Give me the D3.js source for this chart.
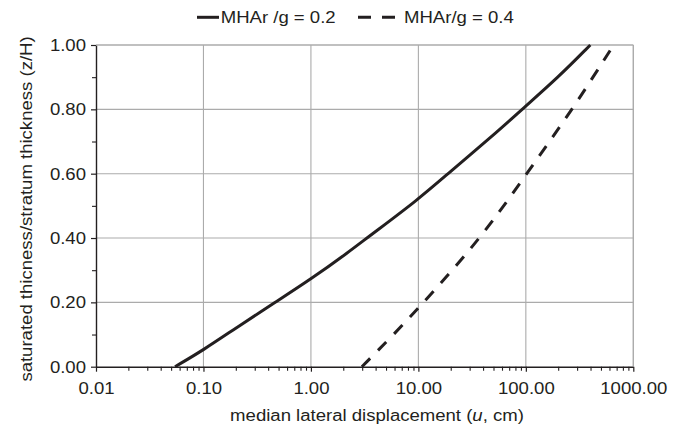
<!DOCTYPE html>
<html>
<head>
<meta charset="utf-8">
<script src="https://cdn.jsdelivr.net/npm/d3@7/dist/d3.min.js"></script>
<style>
  html, body { margin: 0; padding: 0; background: #fff; }
  svg { display: block; }
  text { font-family: "Liberation Sans", Arial, sans-serif; fill: #231f20; }
</style>
</head>
<body>
<svg id="chart" width="686" height="427"></svg>
<script>
// ---- data ----
const seriesNames = ["MHAr /g = 0.2", "MHAr/g = 0.4"];
const uSolid  = [0.0544, 0.1, 0.2, 0.464, 1.0, 2.32, 3.31, 10, 18.8, 57.8, 92, 201, 398];
const zSolid  = [0, 0.052, 0.12, 0.2, 0.272, 0.36, 0.4, 0.52, 0.6, 0.738, 0.8, 0.9, 1.0];
const uDashed = [2.98, 5.9, 11.2, 20.7, 37.2, 62.4, 102, 166, 269, 422, 656];
const zDashed = [0, 0.1, 0.2, 0.3, 0.4, 0.5, 0.6, 0.7, 0.8, 0.9, 1.0];
const xTicks = [0.01, 0.1, 1, 10, 100, 1000];
const yTicks = [0, 0.2, 0.4, 0.6, 0.8, 1.0];
const yMinorTicks = [0.1, 0.3, 0.5, 0.7, 0.9];
const xTitle = ["median lateral displacement (", "u", ", cm)"];
const yTitle = "saturated thicness/stratum thickness (z/H)";

(function () {
// ---- layout ----
const SX = 1.16;        // horizontal stretch of the glyphs
const FS = 16;
const ink = "#231f20";
const grid = "#ababab";
const pL = 96, pR = 633.3, pT = 45, pB = 366.7;

const svg = d3.select("#chart");
const x = d3.scaleLog().domain([0.01, 1000]).range([pL, pR]);
const y = d3.scaleLinear().domain([0, 1]).range([pB, pT]);

// gridlines
const g = svg.append("g");
g.selectAll(".vg").data(xTicks.slice(1)).enter().append("line")
  .attr("x1", d => x(d)).attr("x2", d => x(d))
  .attr("y1", pT).attr("y2", pB)
  .attr("stroke", grid).attr("stroke-width", 1.1);
g.selectAll(".hg").data(yTicks.slice(1)).enter().append("line")
  .attr("x1", pL).attr("x2", pR)
  .attr("y1", d => y(d)).attr("y2", d => y(d))
  .attr("stroke", grid).attr("stroke-width", 1.1);

// minor x ticks
const xMinor = [];
for (let e = -2; e < 3; e++) for (let m = 2; m <= 9; m++) xMinor.push(m * Math.pow(10, e));
svg.append("g").attr("transform", `translate(0,${pB})`)
  .call(d3.axisBottom(x).tickValues(xMinor).tickSize(4).tickSizeOuter(0).tickFormat(""))
  .call(s => s.select(".domain").remove())
  .call(s => s.selectAll("line").attr("stroke", ink).attr("stroke-width", 1.1));

// minor y ticks
svg.append("g").attr("transform", `translate(${pL},0)`)
  .call(d3.axisLeft(y).tickValues(yMinorTicks).tickSize(4).tickSizeOuter(0).tickFormat(""))
  .call(s => s.select(".domain").remove())
  .call(s => s.selectAll("line").attr("stroke", ink).attr("stroke-width", 1.1));

// x axis
svg.append("g").attr("transform", `translate(0,${pB})`)
  .call(d3.axisBottom(x).tickValues(xTicks).tickSize(5).tickSizeOuter(0).tickFormat(d3.format(".2f")))
  .call(s => s.select(".domain").attr("stroke", ink).attr("stroke-width", 1.4))
  .call(s => s.selectAll("line").attr("stroke", ink).attr("stroke-width", 1.2))
  .call(s => s.selectAll("text")
    .attr("y", 27.8).attr("dy", 0).attr("x", 0)
    .attr("transform", `scale(${SX},1)`)
    .attr("font-size", FS).attr("fill", ink)
    .attr("font-family", "'Liberation Sans', Arial, sans-serif"));

// y axis
svg.append("g").attr("transform", `translate(${pL},0)`)
  .call(d3.axisLeft(y).tickValues(yTicks).tickSize(5).tickSizeOuter(0).tickFormat(d3.format(".2f")))
  .call(s => s.select(".domain").attr("stroke", ink).attr("stroke-width", 1.4))
  .call(s => s.selectAll("line").attr("stroke", ink).attr("stroke-width", 1.2))
  .call(s => s.selectAll("text")
    .attr("x", -10 / SX).attr("dy", "0.35em")
    .attr("transform", `scale(${SX},1)`)
    .attr("font-size", FS).attr("fill", ink)
    .attr("font-family", "'Liberation Sans', Arial, sans-serif"));

// top & right borders (gray)
svg.append("line").attr("x1", pL).attr("x2", pR).attr("y1", pT).attr("y2", pT)
  .attr("stroke", grid).attr("stroke-width", 1.1);
svg.append("line").attr("x1", pR).attr("x2", pR).attr("y1", pT).attr("y2", pB)
  .attr("stroke", grid).attr("stroke-width", 1.1);

// curves
const line = d3.line().x(d => x(d[0])).y(d => y(d[1])).curve(d3.curveBasis);
svg.append("path").datum(uSolid.map((u, i) => [u, zSolid[i]]))
  .attr("d", line).attr("fill", "none").attr("stroke", ink).attr("stroke-width", 3);
svg.append("path").datum(uDashed.map((u, i) => [u, zDashed[i]]))
  .attr("d", line).attr("fill", "none").attr("stroke", ink).attr("stroke-width", 3)
  .attr("stroke-dasharray", "12,11");

// axis titles
const xt = svg.append("text")
  .attr("transform", `translate(377,421) scale(${SX},1)`)
  .attr("text-anchor", "middle").attr("font-size", FS);
xt.append("tspan").text(xTitle[0]);
xt.append("tspan").attr("font-style", "italic").text(xTitle[1]);
xt.append("tspan").text(xTitle[2]);

svg.append("text")
  .attr("transform", `translate(31.5,209) rotate(-90) scale(${SX},1)`)
  .attr("text-anchor", "middle").attr("font-size", FS).text(yTitle);

// legend
const lg = svg.append("g");
lg.append("line").attr("x1", 197).attr("x2", 219).attr("y1", 17.3).attr("y2", 17.3)
  .attr("stroke", ink).attr("stroke-width", 3);
lg.append("text").attr("transform", `translate(220.7,23.3) scale(${SX},1)`)
  .attr("font-size", FS).text(seriesNames[0]);
lg.append("line").attr("x1", 358).attr("x2", 395).attr("y1", 17.3).attr("y2", 17.3)
  .attr("stroke", ink).attr("stroke-width", 3).attr("stroke-dasharray", "13,11");
lg.append("text").attr("transform", `translate(404,23.3) scale(${SX},1)`)
  .attr("font-size", FS).text(seriesNames[1]);
})();
</script>
</body>
</html>
